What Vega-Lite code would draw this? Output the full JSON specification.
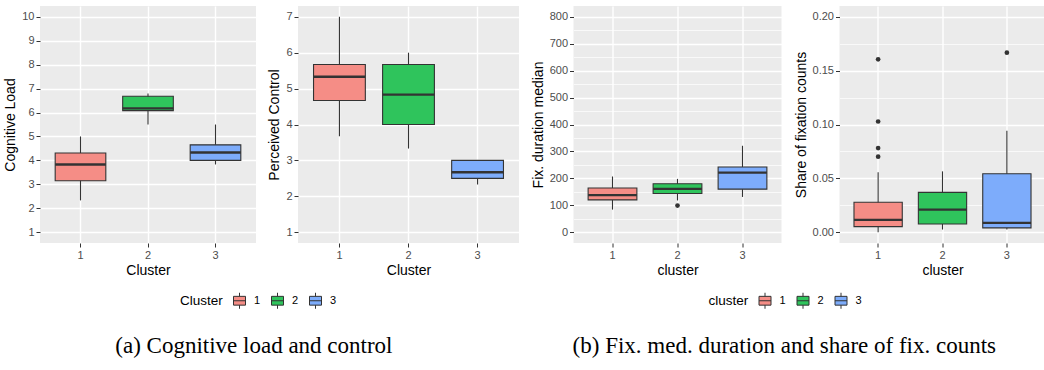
{
  "$schema": "https://vega.github.io/schema/vega-lite/v6.json",
  "padding": {"left": 3, "top": 6, "right": 0, "bottom": 0},
  "background": "#FFFFFF",
  "datasets": {
    "cl": [
      {"cluster": "1", "lo": 2.33, "q1": 3.15, "med": 3.83, "q3": 4.31, "hi": 5.0},
      {"cluster": "2", "lo": 5.5, "q1": 6.08, "med": 6.17, "q3": 6.68, "hi": 6.8},
      {"cluster": "3", "lo": 3.83, "q1": 4.0, "med": 4.33, "q3": 4.65, "hi": 5.5}
    ],
    "pc": [
      {"cluster": "1", "lo": 3.67, "q1": 4.67, "med": 5.33, "q3": 5.67, "hi": 7.0},
      {"cluster": "2", "lo": 3.33, "q1": 4.0, "med": 4.83, "q3": 5.67, "hi": 6.0},
      {"cluster": "3", "lo": 2.33, "q1": 2.5, "med": 2.67, "q3": 3.0, "hi": 3.0}
    ],
    "fd": [
      {"cluster": "1", "lo": 84, "q1": 120, "med": 138, "q3": 164, "hi": 207},
      {"cluster": "2", "lo": 118, "q1": 144, "med": 161, "q3": 180, "hi": 198},
      {"cluster": "3", "lo": 131, "q1": 160, "med": 221, "q3": 242, "hi": 321}
    ],
    "fdo": [
      {"cluster": "2", "v": 99}
    ],
    "sf": [
      {"cluster": "1", "lo": 0.0, "q1": 0.0052, "med": 0.0114, "q3": 0.0278, "hi": 0.0556},
      {"cluster": "2", "lo": 0.0025, "q1": 0.0077, "med": 0.021, "q3": 0.037, "hi": 0.0565},
      {"cluster": "3", "lo": 0.0025, "q1": 0.004, "med": 0.0086, "q3": 0.0543, "hi": 0.0941}
    ],
    "sfo": [
      {"cluster": "1", "v": 0.1605},
      {"cluster": "1", "v": 0.1028},
      {"cluster": "1", "v": 0.0781},
      {"cluster": "1", "v": 0.0701},
      {"cluster": "3", "v": 0.1667}
    ]
  },
  "bounds": "full",
  "spacing": 11.5,
  "resolve": {"scale": {"fill": "independent"}, "legend": {"fill": "independent"}},
  "hconcat": [
    {
      "bounds": "flush",
      "spacing": 42,
      "title": {"text": "(a) Cognitive load and control", "orient": "bottom", "anchor": "middle", "font": "Liberation Serif", "fontSize": 23, "fontWeight": "normal", "color": "#000000", "offset": 24, "dx": -7.5},
      "hconcat": [
        {
          "width": 216, "height": 237,
          "data": {"name": "cl"},
          "encoding": {
            "x": {"field": "cluster", "type": "nominal", "title": "Cluster", "scale": {"type": "band", "paddingInner": 0.25, "paddingOuter": 0.225}, "axis": {"grid": true, "bandPosition": 0.5, "labelAngle": 0}}
          },
          "layer": [
            {"mark": {"type": "rule", "color": "#333333", "strokeWidth": 1.1},
             "encoding": {"y": {"field": "lo", "type": "quantitative", "title": "Cognitive Load",
               "scale": {"domain": [0.55, 10.45], "nice": false, "zero": false},
               "axis": {"values": [1,1.5,2,2.5,3,3.5,4,4.5,5,5.5,6,6.5,7,7.5,8,8.5,9,9.5,10], "tickCount": 100, "format": "d", "labelOverlap": false,
                 "labelExpr": "abs(round(datum.value)-datum.value)<0.001 ? datum.label : ''",
                 "gridWidth": {"condition": {"test": "abs(round(datum.value)-datum.value)<0.001", "value": 1.4}, "value": 0.7},
                 "tickOpacity": {"condition": {"test": "abs(round(datum.value)-datum.value)<0.001", "value": 1}, "value": 0}}},
               "y2": {"field": "hi"}}},
            {"mark": {"type": "bar", "stroke": "#333333", "strokeWidth": 1.1},
             "encoding": {"y": {"field": "q1", "type": "quantitative"}, "y2": {"field": "q3"},
               "fill": {"field": "cluster", "type": "nominal", "title": "Cluster", "scale": {"domain": ["1","2","3"], "range": ["#F58D86", "#2FC45C", "#7DACFB"]}, "legend": {"legendX": 140, "legendY": 286}}}},
            {"mark": {"type": "tick", "color": "#333333", "thickness": 2.3, "size": 50.6, "opacity": 1},
             "encoding": {"y": {"field": "med", "type": "quantitative"}}}
          ]
        },
        {
          "width": 221, "height": 237,
          "data": {"name": "pc"},
          "encoding": {
            "x": {"field": "cluster", "type": "nominal", "title": "Cluster", "scale": {"type": "band", "paddingInner": 0.25, "paddingOuter": 0.225}, "axis": {"grid": true, "bandPosition": 0.5, "labelAngle": 0}}
          },
          "layer": [
            {"mark": {"type": "rule", "color": "#333333", "strokeWidth": 1.1},
             "encoding": {"y": {"field": "lo", "type": "quantitative", "title": "Perceived Control",
               "scale": {"domain": [0.7, 7.3], "nice": false, "zero": false},
               "axis": {"values": [1,1.5,2,2.5,3,3.5,4,4.5,5,5.5,6,6.5,7], "tickCount": 100, "format": "d", "labelOverlap": false,
                 "labelExpr": "abs(round(datum.value)-datum.value)<0.001 ? datum.label : ''",
                 "gridWidth": {"condition": {"test": "abs(round(datum.value)-datum.value)<0.001", "value": 1.4}, "value": 0.7},
                 "tickOpacity": {"condition": {"test": "abs(round(datum.value)-datum.value)<0.001", "value": 1}, "value": 0}}},
               "y2": {"field": "hi"}}},
            {"mark": {"type": "bar", "stroke": "#333333", "strokeWidth": 1.1},
             "encoding": {"y": {"field": "q1", "type": "quantitative"}, "y2": {"field": "q3"},
               "fill": {"field": "cluster", "type": "nominal", "title": "Cluster", "scale": {"domain": ["1","2","3"], "range": ["#F58D86", "#2FC45C", "#7DACFB"]}, "legend": {"legendX": 140, "legendY": 286}}}},
            {"mark": {"type": "tick", "color": "#333333", "thickness": 2.3, "size": 51.8, "opacity": 1},
             "encoding": {"y": {"field": "med", "type": "quantitative"}}}
          ]
        }
      ]
    },
    {
      "bounds": "flush",
      "spacing": 58,
      "title": {"text": "(b) Fix. med. duration and share of fix. counts", "orient": "bottom", "anchor": "middle", "font": "Liberation Serif", "fontSize": 23, "fontWeight": "normal", "color": "#000000", "offset": 24, "dx": -4},
      "hconcat": [
        {
          "width": 208, "height": 237,
          "encoding": {
            "x": {"field": "cluster", "type": "nominal", "title": "cluster", "scale": {"type": "band", "paddingInner": 0.25, "paddingOuter": 0.225}, "axis": {"grid": true, "bandPosition": 0.5, "labelAngle": 0}}
          },
          "layer": [
            {"data": {"name": "fd"}, "mark": {"type": "rule", "color": "#333333", "strokeWidth": 1.1},
             "encoding": {"y": {"field": "lo", "type": "quantitative", "title": "Fix. duration median",
               "scale": {"domain": [-40, 840], "nice": false, "zero": false},
               "axis": {"values": [0,50,100,150,200,250,300,350,400,450,500,550,600,650,700,750,800], "tickCount": 100, "format": "d", "labelOverlap": false,
                 "labelExpr": "datum.value % 100 === 0 ? datum.label : ''",
                 "gridWidth": {"condition": {"test": "datum.value % 100 === 0", "value": 1.4}, "value": 0.7},
                 "tickOpacity": {"condition": {"test": "datum.value % 100 === 0", "value": 1}, "value": 0}}},
               "y2": {"field": "hi"}}},
            {"data": {"name": "fd"}, "mark": {"type": "bar", "stroke": "#333333", "strokeWidth": 1.1},
             "encoding": {"y": {"field": "q1", "type": "quantitative"}, "y2": {"field": "q3"},
               "fill": {"field": "cluster", "type": "nominal", "title": "cluster", "scale": {"domain": ["1","2","3"], "range": ["#F58D86", "#2FC45C", "#7DACFB"]}, "legend": {"legendX": 135, "legendY": 286}}}},
            {"data": {"name": "fd"}, "mark": {"type": "tick", "color": "#333333", "thickness": 2.3, "size": 48.75, "opacity": 1},
             "encoding": {"y": {"field": "med", "type": "quantitative"}}},
            {"data": {"name": "fdo"}, "mark": {"type": "point", "filled": true, "color": "#333333", "size": 22, "opacity": 1},
             "encoding": {"y": {"field": "v", "type": "quantitative"}}}
          ]
        },
        {
          "width": 206, "height": 237,
          "encoding": {
            "x": {"field": "cluster", "type": "nominal", "title": "cluster", "scale": {"type": "band", "paddingInner": 0.25, "paddingOuter": 0.225}, "axis": {"grid": true, "bandPosition": 0.5, "labelAngle": 0}}
          },
          "layer": [
            {"data": {"name": "sf"}, "mark": {"type": "rule", "color": "#333333", "strokeWidth": 1.1},
             "encoding": {"y": {"field": "lo", "type": "quantitative", "title": "Share of fixation counts",
               "scale": {"domain": [-0.01, 0.21], "nice": false, "zero": false},
               "axis": {"values": [0,0.025,0.05,0.075,0.1,0.125,0.15,0.175,0.2], "tickCount": 100, "format": ".2f", "labelOverlap": false,
                 "labelExpr": "abs(round(datum.value*20)-datum.value*20)<0.001 ? datum.label : ''",
                 "gridWidth": {"condition": {"test": "abs(round(datum.value*20)-datum.value*20)<0.001", "value": 1.4}, "value": 0.7},
                 "tickOpacity": {"condition": {"test": "abs(round(datum.value*20)-datum.value*20)<0.001", "value": 1}, "value": 0}}},
               "y2": {"field": "hi"}}},
            {"data": {"name": "sf"}, "mark": {"type": "bar", "stroke": "#333333", "strokeWidth": 1.1},
             "encoding": {"y": {"field": "q1", "type": "quantitative"}, "y2": {"field": "q3"},
               "fill": {"field": "cluster", "type": "nominal", "title": "cluster", "scale": {"domain": ["1","2","3"], "range": ["#F58D86", "#2FC45C", "#7DACFB"]}, "legend": {"legendX": 135, "legendY": 286}}}},
            {"data": {"name": "sf"}, "mark": {"type": "tick", "color": "#333333", "thickness": 2.3, "size": 48.3, "opacity": 1},
             "encoding": {"y": {"field": "med", "type": "quantitative"}}},
            {"data": {"name": "sfo"}, "mark": {"type": "point", "filled": true, "color": "#333333", "size": 22, "opacity": 1},
             "encoding": {"y": {"field": "v", "type": "quantitative"}}}
          ]
        }
      ]
    }
  ],
  "config": {
    "font": "Liberation Sans",
    "view": {"fill": "#EBEBEB", "stroke": null},
    "axis": {"labelFont": "Liberation Sans", "labelFontSize": 11, "labelColor": "#4D4D4D", "tickColor": "#333333", "tickSize": 4, "tickWidth": 1, "domain": false, "gridColor": "#FFFFFF", "gridOpacity": 1, "titleFont": "Liberation Sans", "titleFontSize": 14, "titleFontWeight": "normal", "titleColor": "#000000", "labelPadding": 2},
    "axisX": {"titlePadding": 3, "gridWidth": 1.4},
    "axisY": {"titlePadding": 4},
    "legend": {"orient": "none", "direction": "horizontal", "titleOrient": "left", "titleFont": "Liberation Sans", "titleFontSize": 13.5, "titleFontWeight": "normal", "titleColor": "#000000", "labelFont": "Liberation Sans", "labelFontSize": 11, "labelColor": "#000000", "symbolType": "M-0.75,-0.55H0.75V0.55H-0.75Z M-0.75,0H0.75 M0,-0.55V-1 M0,0.55V1", "symbolSize": 256, "symbolStrokeColor": "#333333", "symbolStrokeWidth": 1, "symbolOpacity": 1, "columnPadding": 8, "labelOffset": 6, "titlePadding": 8}
  }
}
